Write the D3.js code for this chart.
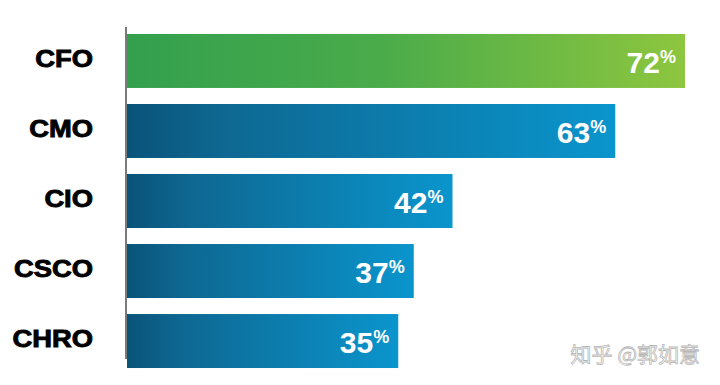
<!DOCTYPE html>
<html>
<head>
<meta charset="utf-8">
<script src="https://cdn.jsdelivr.net/npm/d3@7"></script>
<style>
  html, body { margin: 0; padding: 0; background: #fff; }
  svg { display: block; }
</style>
</head>
<body>
<svg id="chart" width="720" height="385"></svg>
<script>
const categories = ["CFO", "CMO", "CIO", "CSCO", "CHRO"];
const values = [72, 63, 42, 37, 35];
const highlight = ["CFO"];

const svg = d3.select("#chart");
const x = d3.scaleLinear().domain([0, 72]).range([127, 685]);
const y = d3.scaleBand().domain(categories).range([26, 376]).paddingInner(0.229).paddingOuter(0.114);

const defs = svg.append("defs");
const g1 = defs.append("linearGradient").attr("id", "gGreen").attr("x1", "0").attr("x2", "1").attr("y1", "0").attr("y2", "0");
g1.append("stop").attr("offset", "0").attr("stop-color", "#33a04e");
g1.append("stop").attr("offset", "0.45").attr("stop-color", "#4aab4a");
g1.append("stop").attr("offset", "1").attr("stop-color", "#8dc63f");
const g2 = defs.append("linearGradient").attr("id", "gBlue").attr("x1", "0").attr("x2", "1").attr("y1", "0").attr("y2", "0");
g2.append("stop").attr("offset", "0").attr("stop-color", "#0a5379");
g2.append("stop").attr("offset", "0.2").attr("stop-color", "#0e6892");
g2.append("stop").attr("offset", "1").attr("stop-color", "#0a95cd");

svg.append("g").selectAll("rect")
  .data(categories)
  .join("rect")
  .attr("x", x(0))
  .attr("y", d => y(d))
  .attr("width", (d, i) => x(values[i]) - x(0))
  .attr("height", y.bandwidth())
  .attr("fill", d => highlight.includes(d) ? "url(#gGreen)" : "url(#gBlue)");

// axis line
svg.append("line")
  .attr("x1", 126).attr("x2", 126)
  .attr("y1", 27).attr("y2", 359)
  .attr("stroke", "#7a7a7a").attr("stroke-width", 2);

// category labels
svg.append("g").selectAll("text")
  .data(categories)
  .join("text")
  .attr("transform", d => `translate(93,${y(d) + y.bandwidth() / 2 - 2}) scale(1.14,1)`)
  .attr("text-anchor", "end")
  .attr("dominant-baseline", "central")
  .attr("font-family", "'Liberation Sans', Arial, sans-serif")
  .attr("font-weight", "bold")
  .attr("font-size", 24)
  .attr("stroke", "#000").attr("stroke-width", 0.9)
  .attr("fill", "#000")
  .text(d => d);

// value labels
const vl = svg.append("g").selectAll("text")
  .data(categories)
  .join("text")
  .attr("x", (d, i) => x(values[i]) - 9)
  .attr("y", d => y(d) + y.bandwidth() / 2 + 12)
  .attr("text-anchor", "end")
  .attr("font-family", "'Liberation Sans', Arial, sans-serif")
  .attr("font-weight", "bold")
  .attr("fill", "#fff");
vl.append("tspan").attr("font-size", 30).text((d, i) => values[i]);
vl.append("tspan").attr("font-size", 18).attr("dy", -10).text("%");

// watermark
svg.append("text")
  .attr("x", 700).attr("y", 362)
  .attr("text-anchor", "end")
  .attr("font-family", "'Noto Sans CJK SC', sans-serif")
  .attr("font-size", 21)
  .attr("fill", "#fff")
  .attr("stroke", "#b8b8b8").attr("stroke-width", 0.8)
  .text("知乎 @郭如意");
</script>
</body>
</html>
